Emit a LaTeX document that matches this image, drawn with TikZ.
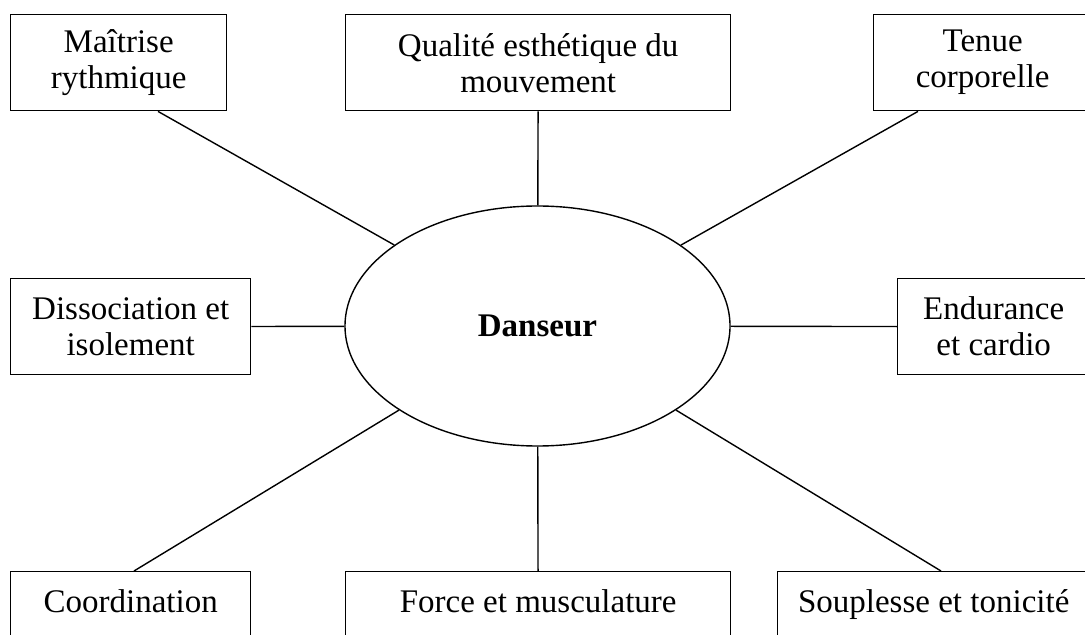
\documentclass[tikz,border=0pt]{standalone}
\usepackage{fontspec}
\setmainfont{Liberation Serif}
\usetikzlibrary{shapes.geometric,calc}

\begin{document}
\begin{tikzpicture}[x=0.5pt, y=-0.5pt,
    facette/.style={draw, line width=0.7pt, align=center, inner xsep=0pt,
      minimum height=48pt, anchor=north west, font=\fontsize{16.5}{18}\selectfont},
    facettebas/.style={facette, minimum height=0pt, inner ysep=9pt, text depth=40pt},
    lien/.style={line width=0.7pt}]

    % Cadre
    \useasboundingbox (0,0) rectangle (1085,635);
    \clip (0,0) rectangle (1085,635);

    % Ellipse centrale
    \node[ellipse, draw, line width=0.7pt, minimum width=192.5pt, minimum height=120pt,
      inner sep=0pt, font=\fontsize{16.5}{18}\selectfont\bfseries] (danseur) at (537.5,326) {Danseur};

    % Cases du haut
    \node[facette, minimum width=108pt] (maitrise) at (10,14) {Maîtrise\\rythmique};
    \node[facette, minimum width=192.5pt] (qualite) at (345,14) {Qualité esthétique du\\mouvement};
    \node[facette, minimum width=109pt] (tenue) at (873,14) {Tenue\\corporelle};

    % Cases du milieu
    \node[facette, minimum width=120pt] (dissociation) at (10,278) {Dissociation et\\isolement};
    \node[facette, minimum width=96pt] (endurance) at (897,278) {Endurance\\et cardio};

    % Cases du bas
    \node[facettebas, minimum width=120pt] (coordination) at (10,571) {Coordination};
    \node[facettebas, minimum width=192.5pt] (force) at (345,571) {Force et musculature};
    \node[facettebas, minimum width=156pt] (souplesse) at (777,571) {Souplesse et tonicité};

    % Liens
    \draw[lien] (danseur) -- ($(maitrise.south west)+(148,0)$);
    \draw[lien] (danseur) -- (qualite);
    \draw[lien] (danseur) -- ($(tenue.south west)+(45,0)$);
    \draw[lien] (danseur) -- (dissociation);
    \draw[lien] (danseur) -- (endurance);
    \draw[lien] (danseur) -- ($(coordination.north west)+(124,0)$);
    \draw[lien] (danseur) -- (force);
    \draw[lien] (danseur) -- ($(souplesse.north west)+(164,0)$);

\end{tikzpicture}
\end{document}
